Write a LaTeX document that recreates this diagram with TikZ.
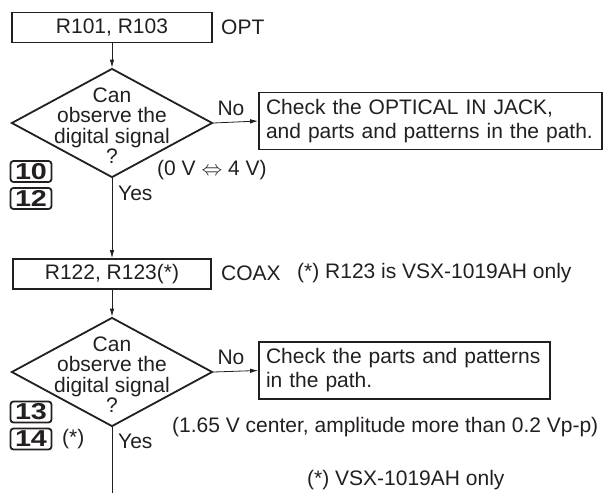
\documentclass[tikz,border=0pt]{standalone}
\usepackage{fontspec}
\setmainfont{Liberation Sans}
\usetikzlibrary{shapes.geometric,arrows.meta}
\definecolor{ink}{HTML}{231F20}
\hyphenpenalty=10000
\exhyphenpenalty=10000
\newcommand{\badgetext}[1]{\scalebox{1.25}[1]{#1}}
\begin{document}
\begin{tikzpicture}[x=1pt,y=-1pt,
  every node/.style={text=ink, font=\fontsize{21}{24}\selectfont},
  box/.style={draw=ink, line width=1.8pt, minimum height=30pt, inner sep=0pt},
  dia/.style={draw=ink, line width=1.8pt, diamond, minimum width=201pt, minimum height=109pt, inner sep=0pt},
  dtext/.style={align=center, font=\fontsize{21}{20.5}\selectfont, inner sep=0pt},
  checkbox/.style={draw=ink, line width=1.8pt, align=left, inner xsep=7pt, inner ysep=0pt, font=\fontsize{21}{24}\selectfont},
  badge/.style={draw=ink, line width=1.8pt, rounded corners=3pt, minimum width=41pt, minimum height=21pt, inner sep=0pt, font=\fontsize{23}{23}\selectfont\bfseries},
  lbl/.style={anchor=west, inner sep=0pt},
  conn/.style={draw=ink, line width=0.8pt},
  arr/.style={conn, -{Latex[length=8pt,width=4.5pt]}}
]
\useasboundingbox (0,0) rectangle (604,493);

% first block
\node[box, minimum width=200pt] (b1) at (112,27.5) {R101, R103};
\node[lbl] (opt) at (221,27.5) {OPT};
\node[dia] (d1) at (112,123) {};
\node[dtext] (d1t) at (112,125.5) {Can\\observe the\\digital signal\\?};
\node[checkbox, text width=329pt, minimum height=57pt] (c1) at (430.5,121)
  {Check the OPTICAL IN JACK,\\and parts and patterns in the path.};
\node[inner sep=0pt] (no1) at (231,108) {No};
\node[lbl] (yes1) at (118,193) {Yes};
\node[lbl] (v1) at (157,170) {(0 V $\Leftrightarrow$ 4 V)};
\node[badge] (k10) at (31,171.5) {\badgetext{10}};
\node[badge] (k12) at (31,198.5) {\badgetext{12}};

% second block
\node[box, minimum width=198pt] (b2) at (112,274) {R122, R123(*)};
\node[lbl] (coax) at (221,273) {COAX};
\node[lbl] (note1) at (297,273) {(*) R123 is VSX-1019AH only};
\node[dia] (d2) at (112,372) {};
\node[dtext] (d2t) at (112,374.5) {Can\\observe the\\digital signal\\?};
\node[checkbox, text width=277pt, minimum height=57pt] (c2) at (404.5,370.5)
  {Check the parts and patterns\\in the path.};
\node[inner sep=0pt] (no2) at (231,357) {No};
\node[lbl] (yes2) at (118,441) {Yes};
\node[lbl] (v2) at (172,427) {(1.65 V center, amplitude more than 0.2 Vp-p)};
\node[badge] (k13) at (31,412) {\badgetext{13}};
\node[badge] (k14) at (31,439) {\badgetext{14}};
\node[lbl] (ast) at (62,439) {(*)};
\node[lbl] (note2) at (307,480) {(*) VSX-1019AH only};
\coordinate (end) at (112,493);

% connectors
\draw[arr] (b1.south) -- (d1.north);
\draw[arr] (d1.east) -- (c1.west);
\draw[arr] (d1.south) -- (b2.north);
\draw[arr] (b2.south) -- (d2.north);
\draw[arr] (d2.east) -- (c2.west);
\draw[conn] (d2.south) -- (end);
\end{tikzpicture}
\end{document}
